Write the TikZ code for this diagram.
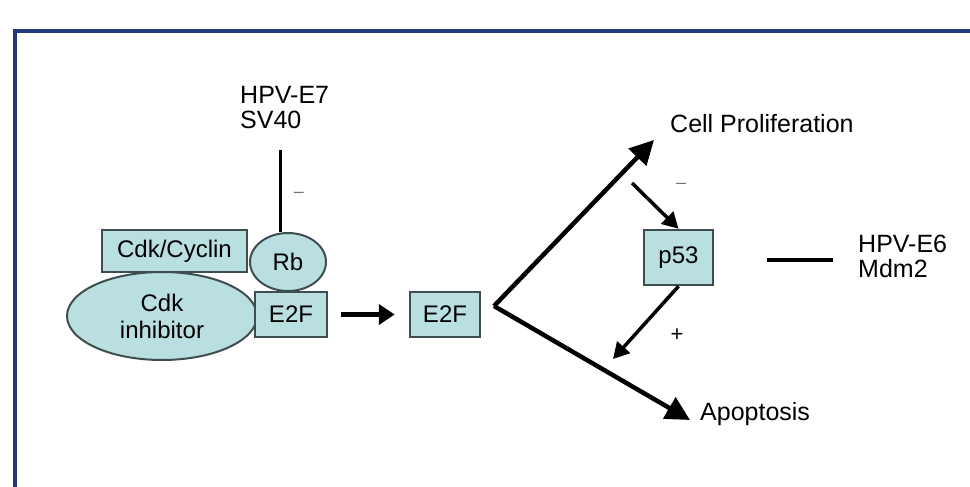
\documentclass[tikz,border=0pt]{standalone}
\usepackage{fontspec}
\setmainfont{Liberation Sans}
\usetikzlibrary{shapes.geometric,arrows.meta}
\definecolor{framecol}{HTML}{1F3A7A}
\definecolor{boxfill}{HTML}{B9DFE1}
\definecolor{boxline}{HTML}{3E4E50}
\tikzset{
  box/.style={draw=boxline, line width=2.5pt, fill=boxfill, inner sep=0pt, font=\fontsize{24}{26}\selectfont},
  oval/.style={ellipse, draw=boxline, line width=2pt, fill=boxfill, inner sep=0pt, align=center, font=\fontsize{24}{27}\selectfont},
  lbl/.style={font=\fontsize{25}{25}\selectfont, inner sep=0pt, align=left},
  sign/.style={font=\fontsize{18}{18}\selectfont, inner sep=0pt, text=black!55},
  bigarrow/.style={line width=5pt, -{Triangle[length=16pt,width=20pt]}},
  branch/.style={line width=4.5pt, -{Triangle[length=24pt,width=24pt]}},
  feed/.style={line width=3.5pt, -{Triangle[length=16pt,width=17pt]}},
  block/.style={line width=3.5pt}
}
\begin{document}
\begin{tikzpicture}[x=1pt,y=-1pt]
\useasboundingbox (0,0) rectangle (970,487);
% frame
\draw[framecol, line width=3.5pt] (15,495) -- (15,31) -- (980,31);

% Rb complex
\node[box, minimum width=145pt, minimum height=42pt] (cc) at (174.5,251) {Cdk/Cyclin};
\node[oval, minimum width=190pt, minimum height=88pt] (inh) at (162,316) {Cdk\\inhibitor};
\node[oval, minimum width=76pt, minimum height=58pt] (rb) at (288,262) {Rb};
\node[box, minimum width=72pt, minimum height=45pt] (e2fl) at (291,314.5) {E2F};

% viral oncoproteins acting on Rb
\node[lbl, anchor=north west] (e7) at (240,86) {HPV-E7\\SV40};
\coordinate (e7b) at (280,150);
\draw[block, line width=3pt] (e7b) -- (e7b |- rb.north);
\node[sign] (m1) at (299,195) {–};

% free E2F
\node[box, minimum width=70pt, minimum height=45pt] (e2fr) at (445,314.5) {E2F};
\draw[bigarrow, shorten <=13pt, shorten >=14pt] (e2fl.east) -- (e2fr.west);

% branches
\coordinate (v) at (494,306);
\coordinate (prtip) at (654,140);
\coordinate (aptip) at (690,420);
\draw[branch] (v) -- (prtip);
\draw[branch] (v) -- (aptip);
\node[lbl, anchor=west] (prol) at (670,124) {Cell Proliferation};
\node[lbl, anchor=west] (apop) at (700,414) {Apoptosis};

% p53 loop
\node[box, minimum width=69pt, minimum height=55pt] (p53) at (678.5,257.5) {p53};
\coordinate (pa) at (632,183);
\coordinate (pb) at (613,359);
\draw[feed] (pa) -- (p53.north);
\draw[feed] (p53.south) -- (pb);
\node[sign] (m2) at (681,186) {–};
\node[sign, text=black, font=\fontsize{22}{22}\selectfont] (p1) at (677,335) {+};

% viral oncoprotein acting on p53
\node[lbl, anchor=west] (e6) at (858,256) {HPV-E6\\Mdm2};
\coordinate (la) at (767,260);
\coordinate (lb) at (833,260);
\draw[block, line width=4pt] (la) -- (lb);
\end{tikzpicture}
\end{document}
